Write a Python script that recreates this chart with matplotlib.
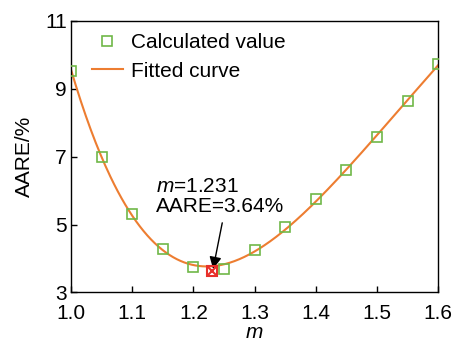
import numpy as np
import matplotlib
matplotlib.use("Agg")
import matplotlib.pyplot as plt

plt.rcParams["font.family"] = ["Liberation Sans", "DejaVu Sans"]
plt.rcParams["mathtext.fontset"] = "custom"
plt.rcParams["mathtext.it"] = "Liberation Sans:italic"
plt.rcParams["mathtext.rm"] = "Liberation Sans"

# calculated AARE values for each m
m_vals = [1.00, 1.05, 1.10, 1.15, 1.20, 1.25, 1.30, 1.35, 1.40, 1.45, 1.50, 1.55, 1.60]
aare_vals = [9.53, 6.98, 5.31, 4.29, 3.75, 3.69, 4.24, 4.93, 5.74, 6.61, 7.59, 8.63, 9.73]
best_m = 1.231
best_aare = 3.64

x_ticks = [1.0, 1.1, 1.2, 1.3, 1.4, 1.5, 1.6]
y_ticks = [3, 5, 7, 9, 11]

# fitted curve through the calculated points
coef = np.polyfit(m_vals, aare_vals, 4)
m_fit = np.linspace(1.0, 1.6, 300)
aare_fit = np.polyval(coef, m_fit)

fig = plt.figure(figsize=(4.56, 3.42), dpi=100)
ax = fig.add_axes([0.156, 0.145, 0.805, 0.794])

ax.plot(m_fit, aare_fit, color="#ed7d31", lw=1.5, label="Fitted curve", zorder=2)
ax.plot(m_vals, aare_vals, "s", ms=6.5, mfc="none", mec="#70b848", mew=1.2,
        label="Calculated value", zorder=3)
ax.plot([best_m], [best_aare], "s", ms=6.5, mfc="none", mec="#e8302a", mew=1.5, zorder=4)
ax.plot([best_m], [best_aare], "x", ms=6, mec="#e8302a", mew=1.5, zorder=4)

ax.text(1.139, 5.25, "$m$=1.231\nAARE=3.64%", fontsize=15, ha="left",
        va="bottom", linespacing=1.05)
ax.annotate("", xy=(1.232, 3.69), xytext=(1.247, 5.05),
            arrowprops=dict(arrowstyle="-|>", color="black", lw=1,
                            mutation_scale=18, shrinkA=0, shrinkB=0))

ax.set_xlim(1.0, 1.6)
ax.set_ylim(3, 11)
ax.set_xticks(x_ticks)
ax.set_yticks(y_ticks)
ax.set_xticklabels([f"{v:.1f}" for v in x_ticks])
ax.tick_params(direction="in", length=4, width=1, labelsize=15)
ax.tick_params(axis="x", pad=8)
ax.tick_params(axis="y", pad=3)
ax.set_xlabel("$m$", fontsize=15, labelpad=0)
ax.set_ylabel("AARE/%", fontsize=15, labelpad=8)
for s in ax.spines.values():
    s.set_linewidth(1)

h, l = ax.get_legend_handles_labels()
ax.legend(h[::-1], l[::-1], loc="upper left", frameon=False, fontsize=15,
          handlelength=1.5, handletextpad=0.4, borderaxespad=0.2,
          labelspacing=0.45, bbox_to_anchor=(0.022, 1.0))

fig.savefig("out.png", dpi=100)
